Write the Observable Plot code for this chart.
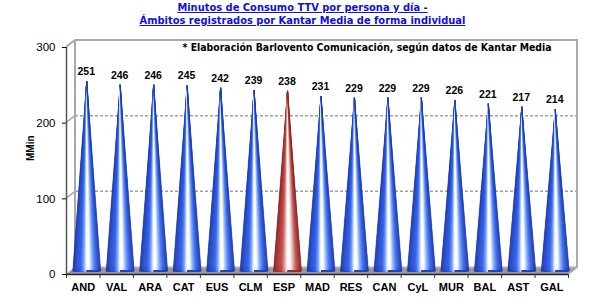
<!DOCTYPE html>
<html><head><meta charset="utf-8">
<script src="https://cdn.jsdelivr.net/npm/d3@7"></script>
<script src="https://cdn.jsdelivr.net/npm/@observablehq/plot@0.6"></script>
<style>
body{margin:0;background:#fff;width:605px;height:297px;overflow:hidden}
#title{height:30px;text-align:center;font:bold 11px "DejaVu Sans Condensed","DejaVu Sans",sans-serif;color:#1010e0;line-height:13px;padding-top:1px;box-sizing:border-box}
#title span{text-decoration:underline}
#chart svg{display:block}
</style></head><body>
<div id="title"><span>Minutos de Consumo TTV por persona y día -</span><br><span>Ámbitos registrados por Kantar Media de forma individual</span></div>
<div id="chart"></div>
<script>
const regions = ["AND","VAL","ARA","CAT","EUS","CLM","ESP","MAD","RES","CAN","CyL","MUR","BAL","AST","GAL"];
const minutes = [251,246,246,245,242,239,238,231,229,229,229,226,221,217,214];
const highlight = "ESP";
const yTicks = [0,100,200,300];
const gridValues = [100,200];
const yLabel = "MMin";
const note = "* Elaboración Barlovento Comunicación, según datos de Kantar Media";

// cone shading (style)
const blueShade = [[0, "#1a2f9c"], [0.12, "#2248cc"], [0.3, "#2f60e8"], [0.41, "#7aa4ff"], [0.5, "#ffffff"], [0.6, "#ffffff"], [0.7, "#8ab0ff"], [0.82, "#3a6cf0"], [1, "#1a34a8"]];
const redShade = [[0, "#7e1a1a"], [0.12, "#a83030"], [0.3, "#c04a4a"], [0.41, "#e4a4a4"], [0.5, "#ffffff"], [0.6, "#ffffff"], [0.7, "#ebb4b4"], [0.82, "#c45050"], [1, "#822020"]];
const shadeAt = (stops, t) => {
  for (let k = 1; k < stops.length; k++) {
    if (t <= stops[k][0]) {
      const [t0, c0] = stops[k - 1], [t1, c1] = stops[k];
      return d3.interpolateRgb(c0, c1)((t - t0) / (t1 - t0));
    }
  }
  return stops[stops.length - 1][1];
};

const rows = regions.map((r, i) => ({region: r, minutes: minutes[i], pos: i + 0.5}));
const HALF = 0.42;
const FACETS = 40;
const facets = rows.flatMap(d => d3.range(FACETS).flatMap(k => {
  const a = -1 + 2 * k / FACETS, b = -1 + 2 * (k + 1) / FACETS;
  const color = shadeAt(d.region === highlight ? redShade : blueShade, (k + 0.5) / FACETS);
  const key = d.region + "-" + k;
  return [
    {key, color, x: d.pos + HALF * a, y: 0},
    {key, color, x: d.pos, y: d.minutes},
    {key, color, x: d.pos + HALF * b, y: 0}
  ];
}));

const DX = 9, DY = -7;

function walls(index, scales) {
  const {x, y} = scales;
  const g = d3.create("svg:g");
  const x0 = x(0), x1 = x(regions.length), y0 = y(0), yT = y(yTicks[yTicks.length - 1]);
  g.append("path")
    .attr("d", `M${x0},${y0}L${x1},${y0}L${x1 + DX},${y0 + DY}L${x0 + DX},${y0 + DY}Z`)
    .attr("fill", "#9a9a9a");
  g.append("path")
    .attr("d", `M${x0 + DX},${y0 + DY}L${x1 + DX},${y0 + DY}`)
    .attr("stroke", "#c4c4c4").attr("stroke-width", 1.5);
  for (const v of gridValues) {
    g.append("path").attr("d", `M${x0},${y(v)}L${x0 + DX},${y(v) + DY}`)
      .attr("stroke", "#a8a8a8").attr("stroke-width", 1.5).attr("fill", "none");
    g.append("path").attr("d", `M${x0 + DX},${y(v) + DY}L${x1 + DX},${y(v) + DY}`)
      .attr("stroke", "#a0a0a0").attr("stroke-width", 1.5).attr("stroke-dasharray", "3,2").attr("fill", "none");
  }
  g.append("path")
    .attr("d", `M${x0},${yT}L${x0 + DX},${yT + DY}L${x1 + DX},${yT + DY}L${x1 + DX},${y0 + DY}L${x1},${y0}`)
    .attr("stroke", "#a8a8a8").attr("stroke-width", 2).attr("fill", "none");
  g.append("path")
    .attr("d", `M${x0 + DX},${yT + DY}L${x0 + DX},${y0 + DY}`)
    .attr("stroke", "#a8a8a8").attr("stroke-width", 2).attr("fill", "none");
  return g.node();
}

const plot = Plot.plot({
  width: 605,
  height: 267,
  marginTop: 17,
  marginBottom: 23,
  marginLeft: 66,
  marginRight: 37,
  style: {fontFamily: "'Liberation Sans Narrow','Liberation Sans',sans-serif", fontSize: "11.5px", color: "#000", background: "transparent", overflow: "visible"},
  x: {domain: [0, regions.length], axis: null},
  y: {domain: [0, 300], ticks: yTicks, tickSize: 4, tickPadding: 7, label: null},
  color: {type: "identity"},
  marks: [
    walls,
    Plot.ruleX([0], {stroke: "#555", strokeWidth: 1.5}),
    Plot.ruleY([0], {stroke: "#222", strokeWidth: 1.5}),
    Plot.ruleX(d3.range(0, regions.length + 1), {y1: 0, y2: 0, insetBottom: -4, stroke: "#333"}),
    Plot.areaY(facets, {x: "x", y1: 0, y2: "y", z: "key", fill: "color", stroke: "color", strokeWidth: 0.4, dx: 4, dy: -3}),
    Plot.text(rows, {x: "pos", y: "minutes", text: d => String(d.minutes), dx: 3, dy: -13, fontWeight: "bold", fontSize: 10.5}),
    Plot.text(rows, {x: "pos", y: 0, text: "region", dy: 13, fontWeight: "bold", fontSize: 11}),
    Plot.text([note], {frameAnchor: "top-right", dx: -17, lineAnchor: "middle", fontWeight: "bold", fontSize: 10.4, fontFamily: "'DejaVu Sans Condensed','DejaVu Sans',sans-serif", textAnchor: "end"}),
    Plot.text([yLabel], {frameAnchor: "left", rotate: -90, dx: -36, fontWeight: "bold", fontSize: 10})
  ]
});
document.getElementById("chart").appendChild(plot);
</script>
</body></html>
